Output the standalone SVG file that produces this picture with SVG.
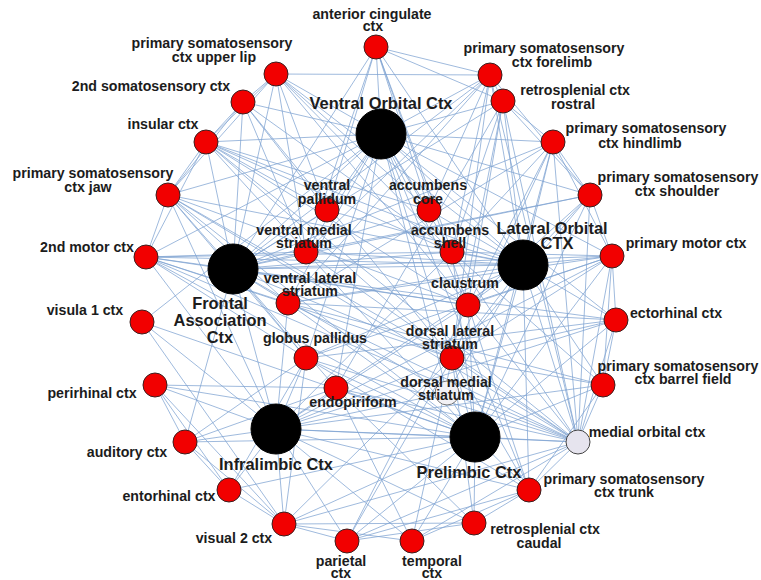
<svg xmlns="http://www.w3.org/2000/svg" width="761" height="580" viewBox="0 0 761 580">
<style>
.e line{stroke:#7fa3d1;stroke-width:1;stroke-opacity:0.75}
.r{fill:#f20000;stroke:#3a2020;stroke-width:1}
.b{fill:#000;stroke:#000;stroke-width:1}
.w{fill:#e6e4ee;stroke:#444;stroke-width:1}
.t{font-family:"Liberation Sans",Arial,sans-serif;font-weight:bold;font-size:14.2px;fill:#1c1c1c;text-anchor:middle}
.T{font-family:"Liberation Sans",Arial,sans-serif;font-weight:bold;font-size:16.4px;fill:#1c1c1c;text-anchor:middle}
</style>
<rect width="761" height="580" fill="#fff"/>
<g id="connectors" class="e">
<!-- VO -->
<line x1="381" y1="134" x2="376" y2="47"/><line x1="381" y1="134" x2="276" y2="74"/><line x1="381" y1="134" x2="243" y2="102"/><line x1="381" y1="134" x2="206" y2="142"/><line x1="381" y1="134" x2="168" y2="195"/><line x1="381" y1="134" x2="146" y2="257"/><line x1="381" y1="134" x2="490" y2="75"/><line x1="381" y1="134" x2="503" y2="101"/><line x1="381" y1="134" x2="553" y2="142"/><line x1="381" y1="134" x2="590" y2="195"/><line x1="381" y1="134" x2="612" y2="256"/><line x1="381" y1="134" x2="327" y2="210"/><line x1="381" y1="134" x2="429" y2="210"/><line x1="381" y1="134" x2="306" y2="252"/><line x1="381" y1="134" x2="452" y2="252"/><line x1="381" y1="134" x2="288" y2="303"/><line x1="381" y1="134" x2="468" y2="305"/><line x1="381" y1="134" x2="306" y2="358"/><line x1="381" y1="134" x2="452" y2="358"/><line x1="381" y1="134" x2="336" y2="388"/><line x1="381" y1="134" x2="447" y2="393"/><line x1="381" y1="134" x2="233" y2="269"/><line x1="381" y1="134" x2="523" y2="265"/><line x1="381" y1="134" x2="616" y2="320"/><line x1="381" y1="134" x2="529" y2="490"/><line x1="381" y1="134" x2="142" y2="322"/>
<!-- FA -->
<line x1="233" y1="269" x2="376" y2="47"/><line x1="233" y1="269" x2="276" y2="74"/><line x1="233" y1="269" x2="243" y2="102"/><line x1="233" y1="269" x2="206" y2="142"/><line x1="233" y1="269" x2="168" y2="195"/><line x1="233" y1="269" x2="146" y2="257"/><line x1="233" y1="269" x2="185" y2="442"/><line x1="233" y1="269" x2="327" y2="210"/><line x1="233" y1="269" x2="429" y2="210"/><line x1="233" y1="269" x2="306" y2="252"/><line x1="233" y1="269" x2="452" y2="252"/><line x1="233" y1="269" x2="288" y2="303"/><line x1="233" y1="269" x2="468" y2="305"/><line x1="233" y1="269" x2="306" y2="358"/><line x1="233" y1="269" x2="452" y2="358"/><line x1="233" y1="269" x2="447" y2="393"/><line x1="233" y1="269" x2="336" y2="388"/><line x1="233" y1="269" x2="523" y2="265"/><line x1="233" y1="269" x2="612" y2="256"/><line x1="233" y1="269" x2="553" y2="142"/><line x1="233" y1="269" x2="490" y2="75"/><line x1="233" y1="269" x2="503" y2="101"/><line x1="233" y1="269" x2="276" y2="429"/><line x1="233" y1="269" x2="590" y2="195"/><line x1="233" y1="269" x2="616" y2="320"/>
<!-- LO -->
<line x1="523" y1="265" x2="376" y2="47"/><line x1="523" y1="265" x2="276" y2="74"/><line x1="523" y1="265" x2="206" y2="142"/><line x1="523" y1="265" x2="168" y2="195"/><line x1="523" y1="265" x2="146" y2="257"/><line x1="523" y1="265" x2="490" y2="75"/><line x1="523" y1="265" x2="503" y2="101"/><line x1="523" y1="265" x2="553" y2="142"/><line x1="523" y1="265" x2="590" y2="195"/><line x1="523" y1="265" x2="612" y2="256"/><line x1="523" y1="265" x2="616" y2="320"/><line x1="523" y1="265" x2="603" y2="385"/><line x1="523" y1="265" x2="578" y2="442"/><line x1="523" y1="265" x2="529" y2="490"/><line x1="523" y1="265" x2="327" y2="210"/><line x1="523" y1="265" x2="429" y2="210"/><line x1="523" y1="265" x2="306" y2="252"/><line x1="523" y1="265" x2="452" y2="252"/><line x1="523" y1="265" x2="288" y2="303"/><line x1="523" y1="265" x2="468" y2="305"/><line x1="523" y1="265" x2="306" y2="358"/><line x1="523" y1="265" x2="452" y2="358"/><line x1="523" y1="265" x2="447" y2="393"/><line x1="523" y1="265" x2="336" y2="388"/><line x1="523" y1="265" x2="475" y2="437"/>
<!-- IL -->
<line x1="276" y1="429" x2="142" y2="322"/><line x1="276" y1="429" x2="155" y2="385"/><line x1="276" y1="429" x2="185" y2="442"/><line x1="276" y1="429" x2="229" y2="490"/><line x1="276" y1="429" x2="284" y2="524"/><line x1="276" y1="429" x2="347" y2="541"/><line x1="276" y1="429" x2="412" y2="541"/><line x1="276" y1="429" x2="474" y2="523"/><line x1="276" y1="429" x2="529" y2="490"/><line x1="276" y1="429" x2="578" y2="442"/><line x1="276" y1="429" x2="603" y2="385"/><line x1="276" y1="429" x2="616" y2="320"/><line x1="276" y1="429" x2="612" y2="256"/><line x1="276" y1="429" x2="306" y2="358"/><line x1="276" y1="429" x2="336" y2="388"/><line x1="276" y1="429" x2="288" y2="303"/><line x1="276" y1="429" x2="452" y2="358"/><line x1="276" y1="429" x2="447" y2="393"/><line x1="276" y1="429" x2="468" y2="305"/><line x1="276" y1="429" x2="475" y2="437"/><line x1="276" y1="429" x2="168" y2="195"/><line x1="276" y1="429" x2="146" y2="257"/><line x1="276" y1="429" x2="452" y2="252"/>
<!-- PL -->
<line x1="475" y1="437" x2="155" y2="385"/><line x1="475" y1="437" x2="185" y2="442"/><line x1="475" y1="437" x2="229" y2="490"/><line x1="475" y1="437" x2="284" y2="524"/><line x1="475" y1="437" x2="347" y2="541"/><line x1="475" y1="437" x2="412" y2="541"/><line x1="475" y1="437" x2="474" y2="523"/><line x1="475" y1="437" x2="529" y2="490"/><line x1="475" y1="437" x2="578" y2="442"/><line x1="475" y1="437" x2="603" y2="385"/><line x1="475" y1="437" x2="616" y2="320"/><line x1="475" y1="437" x2="612" y2="256"/><line x1="475" y1="437" x2="590" y2="195"/><line x1="475" y1="437" x2="553" y2="142"/><line x1="475" y1="437" x2="447" y2="393"/><line x1="475" y1="437" x2="452" y2="358"/><line x1="475" y1="437" x2="468" y2="305"/><line x1="475" y1="437" x2="336" y2="388"/><line x1="475" y1="437" x2="306" y2="358"/><line x1="475" y1="437" x2="288" y2="303"/><line x1="475" y1="437" x2="452" y2="252"/><line x1="475" y1="437" x2="146" y2="257"/><line x1="475" y1="437" x2="168" y2="195"/><line x1="475" y1="437" x2="206" y2="142"/><line x1="475" y1="437" x2="142" y2="322"/>
<!-- MO -->
<line x1="578" y1="442" x2="529" y2="490"/><line x1="578" y1="442" x2="603" y2="385"/><line x1="578" y1="442" x2="616" y2="320"/><line x1="578" y1="442" x2="612" y2="256"/><line x1="578" y1="442" x2="590" y2="195"/><line x1="578" y1="442" x2="553" y2="142"/><line x1="578" y1="442" x2="503" y2="101"/><line x1="578" y1="442" x2="490" y2="75"/><line x1="578" y1="442" x2="288" y2="303"/><line x1="578" y1="442" x2="336" y2="388"/><line x1="578" y1="442" x2="306" y2="358"/><line x1="578" y1="442" x2="452" y2="358"/><line x1="578" y1="442" x2="468" y2="305"/><line x1="578" y1="442" x2="452" y2="252"/><line x1="578" y1="442" x2="306" y2="252"/><line x1="578" y1="442" x2="168" y2="195"/><line x1="578" y1="442" x2="146" y2="257"/><line x1="578" y1="442" x2="206" y2="142"/><line x1="578" y1="442" x2="284" y2="524"/><line x1="578" y1="442" x2="347" y2="541"/><line x1="578" y1="442" x2="412" y2="541"/><line x1="578" y1="442" x2="447" y2="393"/>
<!-- peripheral ring -->
<line x1="276" y1="74" x2="243" y2="102"/><line x1="276" y1="74" x2="206" y2="142"/><line x1="276" y1="74" x2="168" y2="195"/><line x1="243" y1="102" x2="206" y2="142"/><line x1="243" y1="102" x2="168" y2="195"/><line x1="206" y1="142" x2="168" y2="195"/><line x1="168" y1="195" x2="146" y2="257"/><line x1="206" y1="142" x2="146" y2="257"/><line x1="276" y1="74" x2="490" y2="75"/><line x1="376" y1="47" x2="490" y2="75"/><line x1="376" y1="47" x2="503" y2="101"/><line x1="490" y1="75" x2="503" y2="101"/><line x1="503" y1="101" x2="553" y2="142"/><line x1="503" y1="101" x2="590" y2="195"/><line x1="490" y1="75" x2="590" y2="195"/><line x1="553" y1="142" x2="590" y2="195"/><line x1="553" y1="142" x2="612" y2="256"/><line x1="590" y1="195" x2="612" y2="256"/><line x1="612" y1="256" x2="616" y2="320"/><line x1="612" y1="256" x2="603" y2="385"/><line x1="616" y1="320" x2="603" y2="385"/><line x1="603" y1="385" x2="529" y2="490"/><line x1="529" y1="490" x2="474" y2="523"/><line x1="529" y1="490" x2="412" y2="541"/><line x1="529" y1="490" x2="347" y2="541"/><line x1="474" y1="523" x2="347" y2="541"/><line x1="474" y1="523" x2="284" y2="524"/><line x1="412" y1="541" x2="284" y2="524"/><line x1="347" y1="541" x2="284" y2="524"/><line x1="284" y1="524" x2="229" y2="490"/><line x1="284" y1="524" x2="185" y2="442"/><line x1="229" y1="490" x2="185" y2="442"/><line x1="185" y1="442" x2="155" y2="385"/><line x1="155" y1="385" x2="229" y2="490"/><line x1="142" y1="322" x2="284" y2="524"/><line x1="155" y1="385" x2="284" y2="524"/>
<!-- peripheral to inner -->
<line x1="276" y1="74" x2="327" y2="210"/><line x1="276" y1="74" x2="429" y2="210"/><line x1="276" y1="74" x2="306" y2="252"/><line x1="276" y1="74" x2="452" y2="252"/><line x1="276" y1="74" x2="468" y2="305"/><line x1="243" y1="102" x2="327" y2="210"/><line x1="243" y1="102" x2="452" y2="252"/><line x1="243" y1="102" x2="306" y2="252"/><line x1="243" y1="102" x2="452" y2="358"/><line x1="206" y1="142" x2="327" y2="210"/><line x1="206" y1="142" x2="429" y2="210"/><line x1="206" y1="142" x2="452" y2="252"/><line x1="206" y1="142" x2="468" y2="305"/><line x1="206" y1="142" x2="452" y2="358"/><line x1="168" y1="195" x2="288" y2="303"/><line x1="168" y1="195" x2="468" y2="305"/><line x1="168" y1="195" x2="452" y2="358"/><line x1="168" y1="195" x2="306" y2="358"/><line x1="146" y1="257" x2="306" y2="252"/><line x1="146" y1="257" x2="288" y2="303"/><line x1="146" y1="257" x2="452" y2="252"/><line x1="146" y1="257" x2="468" y2="305"/><line x1="146" y1="257" x2="452" y2="358"/><line x1="146" y1="257" x2="306" y2="358"/><line x1="376" y1="47" x2="327" y2="210"/><line x1="376" y1="47" x2="306" y2="252"/><line x1="376" y1="47" x2="429" y2="210"/><line x1="376" y1="47" x2="452" y2="252"/><line x1="376" y1="47" x2="468" y2="305"/><line x1="490" y1="75" x2="306" y2="252"/><line x1="490" y1="75" x2="429" y2="210"/><line x1="490" y1="75" x2="452" y2="252"/><line x1="490" y1="75" x2="288" y2="303"/><line x1="490" y1="75" x2="452" y2="358"/><line x1="503" y1="101" x2="468" y2="305"/><line x1="503" y1="101" x2="452" y2="252"/><line x1="503" y1="101" x2="452" y2="358"/><line x1="503" y1="101" x2="336" y2="388"/><line x1="553" y1="142" x2="452" y2="252"/><line x1="553" y1="142" x2="468" y2="305"/><line x1="553" y1="142" x2="452" y2="358"/><line x1="553" y1="142" x2="288" y2="303"/><line x1="590" y1="195" x2="306" y2="252"/><line x1="590" y1="195" x2="468" y2="305"/><line x1="590" y1="195" x2="452" y2="358"/><line x1="612" y1="256" x2="288" y2="303"/><line x1="612" y1="256" x2="452" y2="252"/><line x1="612" y1="256" x2="468" y2="305"/><line x1="612" y1="256" x2="452" y2="358"/><line x1="612" y1="256" x2="306" y2="358"/><line x1="616" y1="320" x2="288" y2="303"/><line x1="616" y1="320" x2="452" y2="358"/><line x1="616" y1="320" x2="306" y2="358"/><line x1="603" y1="385" x2="288" y2="303"/><line x1="603" y1="385" x2="452" y2="358"/><line x1="603" y1="385" x2="452" y2="252"/><line x1="529" y1="490" x2="452" y2="358"/><line x1="529" y1="490" x2="468" y2="305"/><line x1="529" y1="490" x2="306" y2="358"/><line x1="474" y1="523" x2="452" y2="358"/><line x1="474" y1="523" x2="336" y2="388"/><line x1="412" y1="541" x2="336" y2="388"/><line x1="412" y1="541" x2="452" y2="358"/><line x1="347" y1="541" x2="452" y2="358"/><line x1="347" y1="541" x2="468" y2="305"/><line x1="284" y1="524" x2="452" y2="358"/><line x1="284" y1="524" x2="306" y2="358"/><line x1="185" y1="442" x2="306" y2="358"/><line x1="185" y1="442" x2="336" y2="388"/><line x1="229" y1="490" x2="306" y2="358"/><line x1="155" y1="385" x2="336" y2="388"/>
</g>
<g id="n-VO"><circle class="b" cx="381" cy="134" r="25"/><text class="T" x="381" y="109">Ventral Orbital Ctx</text></g>
<g id="n-FA"><circle class="b" cx="233" cy="269" r="25"/><text class="T" x="220" y="309">Frontal</text><text class="T" x="220" y="326">Association</text><text class="T" x="220" y="343">Ctx</text></g>
<g id="n-LO"><circle class="b" cx="523" cy="265" r="25"/><text class="T" x="552" y="234">Lateral Orbital</text><text class="T" x="557" y="249">CTX</text></g>
<g id="n-IL"><circle class="b" cx="276" cy="429" r="25"/><text class="T" x="276" y="470">Infralimbic Ctx</text></g>
<g id="n-PL"><circle class="b" cx="475" cy="437" r="25"/><text class="T" x="469" y="478">Prelimbic Ctx</text></g>
<g id="n-MO"><circle class="w" cx="578" cy="442" r="12"/><text class="t" x="647" y="437">medial orbital ctx</text></g>
<g id="n-vp"><circle class="r" cx="327" cy="210" r="12"/><text class="t" x="327" y="190">ventral</text><text class="t" x="327" y="204">pallidum</text></g>
<g id="n-acore"><circle class="r" cx="429" cy="210" r="12"/><text class="t" x="428" y="190">accumbens</text><text class="t" x="428" y="204">core</text></g>
<g id="n-vms"><circle class="r" cx="306" cy="252" r="12"/><text class="t" x="304" y="235">ventral medial</text><text class="t" x="304" y="248">striatum</text></g>
<g id="n-ash"><circle class="r" cx="452" cy="252" r="12"/><text class="t" x="450" y="235">accumbens</text><text class="t" x="450" y="248">shell</text></g>
<g id="n-vls"><circle class="r" cx="288" cy="303" r="12"/><text class="t" x="310" y="283">ventral lateral</text><text class="t" x="310" y="296">striatum</text></g>
<g id="n-cla"><circle class="r" cx="468" cy="305" r="12"/><text class="t" x="465" y="288">claustrum</text></g>
<g id="n-gp"><circle class="r" cx="306" cy="358" r="12"/><text class="t" x="315" y="343">globus pallidus</text></g>
<g id="n-dls"><circle class="r" cx="452" cy="358" r="12"/><text class="t" x="450" y="336">dorsal lateral</text><text class="t" x="450" y="349">striatum</text></g>
<g id="n-endo"><circle class="r" cx="336" cy="388" r="12"/><text class="t" x="353" y="407">endopiriform</text></g>
<g id="n-dms"><circle class="w" cx="447" cy="393" r="12" style="fill:#f2f1f5;stroke:#777"/><text class="t" x="446" y="387">dorsal medial</text><text class="t" x="446" y="400">striatum</text></g>
<g id="n-acc"><circle class="r" cx="376" cy="47" r="12"/><text class="t" x="372" y="19">anterior cingulate</text><text class="t" x="373" y="31">ctx</text></g>
<g id="n-ul"><circle class="r" cx="276" cy="74" r="12"/><text class="t" x="212" y="48">primary somatosensory</text><text class="t" x="214" y="62">ctx upper lip</text></g>
<g id="n-s2"><circle class="r" cx="243" cy="102" r="12"/><text class="t" x="151" y="91">2nd somatosensory ctx</text></g>
<g id="n-ins"><circle class="r" cx="206" cy="142" r="12"/><text class="t" x="163" y="129">insular ctx</text></g>
<g id="n-jaw"><circle class="r" cx="168" cy="195" r="12"/><text class="t" x="93" y="178">primary somatosensory</text><text class="t" x="88" y="192">ctx jaw</text></g>
<g id="n-m2"><circle class="r" cx="146" cy="257" r="12"/><text class="t" x="87" y="252">2nd motor ctx</text></g>
<g id="n-v1"><circle class="r" cx="142" cy="322" r="12"/><text class="t" x="85" y="315">visula 1 ctx</text></g>
<g id="n-prh"><circle class="r" cx="155" cy="385" r="12"/><text class="t" x="92" y="398">perirhinal ctx</text></g>
<g id="n-aud"><circle class="r" cx="185" cy="442" r="12"/><text class="t" x="127" y="457">auditory ctx</text></g>
<g id="n-ent"><circle class="r" cx="229" cy="490" r="12"/><text class="t" x="169" y="501">entorhinal ctx</text></g>
<g id="n-v2"><circle class="r" cx="284" cy="524" r="12"/><text class="t" x="234" y="543">visual 2 ctx</text></g>
<g id="n-par"><circle class="r" cx="347" cy="541" r="12"/><text class="t" x="341" y="566">parietal</text><text class="t" x="341" y="578">ctx</text></g>
<g id="n-tem"><circle class="r" cx="412" cy="541" r="12"/><text class="t" x="432" y="566">temporal</text><text class="t" x="432" y="578">ctx</text></g>
<g id="n-rsc"><circle class="r" cx="474" cy="523" r="12"/><text class="t" x="545" y="534">retrosplenial ctx</text><text class="t" x="539" y="548">caudal</text></g>
<g id="n-trunk"><circle class="r" cx="529" cy="490" r="12"/><text class="t" x="624" y="484">primary somatosensory</text><text class="t" x="624" y="497">ctx trunk</text></g>
<g id="n-bf"><circle class="r" cx="603" cy="385" r="12"/><text class="t" x="678" y="371">primary somatosensory</text><text class="t" x="683" y="384">ctx barrel field</text></g>
<g id="n-ect"><circle class="r" cx="616" cy="320" r="12"/><text class="t" x="676" y="318">ectorhinal ctx</text></g>
<g id="n-m1"><circle class="r" cx="612" cy="256" r="12"/><text class="t" x="686" y="248">primary motor ctx</text></g>
<g id="n-sh"><circle class="r" cx="590" cy="195" r="12"/><text class="t" x="678" y="182">primary somatosensory</text><text class="t" x="677" y="196">ctx shoulder</text></g>
<g id="n-hl"><circle class="r" cx="553" cy="142" r="12"/><text class="t" x="646" y="133">primary somatosensory</text><text class="t" x="640" y="148">ctx hindlimb</text></g>
<g id="n-rsr"><circle class="r" cx="503" cy="101" r="12"/><text class="t" x="575" y="95">retrosplenial ctx</text><text class="t" x="573" y="109">rostral</text></g>
<g id="n-fl"><circle class="r" cx="490" cy="75" r="12"/><text class="t" x="544" y="53">primary somatosensory</text><text class="t" x="552" y="67">ctx forelimb</text></g>
</svg>
